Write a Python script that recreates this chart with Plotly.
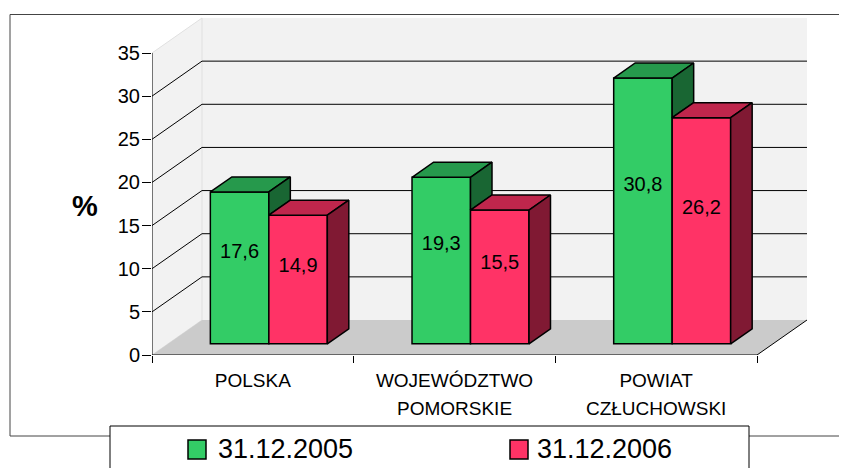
import plotly.graph_objects as go

# ---------------- data ----------------
label_line1 = ["POLSKA", "WOJEWÓDZTWO", "POWIAT"]
label_line2 = ["", "POMORSKIE", "CZŁUCHOWSKI"]
series_names = ["31.12.2005", "31.12.2006"]
values_2005 = [17.6, 19.3, 30.8]
values_2006 = [14.9, 15.5, 26.2]
value_labels_2005 = ["17,6", "19,3", "30,8"]
value_labels_2006 = ["14,9", "15,5", "26,2"]
y_ticks = [0, 5, 10, 15, 20, 25, 30, 35]

# ---------------- geometry / style ----------------
OFF = 8                      # page body margin of the html page
W, H = 847 - OFF, 468 - OFF
ML, MR, MT, MB = 152 - OFF, 37, 15 - OFF, 113
PW, PH = W - ML - MR, H - MT - MB
CAT_PX = 201.67              # pixels per category on the front plane
Y_PX = 302 / 35              # pixels per value unit on the front plane
X_RANGE = [-0.5, -0.5 + PW / CAT_PX]
Y_RANGE = [0, PH / Y_PX]
DX = 50 / CAT_PX             # depth offset (x units)
DY = 35 / Y_PX               # depth offset (value units)
F0 = 0.32                    # depth of bar front face (fraction)
FD = 0.43                    # bar depth (fraction)
BW = 0.29                    # bar width (category units)
Y_MAX = 35
N = len(label_line1)

FONT = "Liberation Sans, Arial, sans-serif"
FRONT = ["#33CC66", "#FF3366"]
TOP = ["#26994C", "#BF264C"]
SIDE = ["#196633", "#801933"]
WALL = "#F2F2F2"
FLOOR = "#CBCBCB"


def px(x):
    """screen x (reference pixels) -> paper x"""
    return (x - OFF - ML) / PW


def py(y):
    """screen y (reference pixels) -> paper y"""
    return (H - MB - (y - OFF)) / PH


def poly(pts):
    return "M " + " L ".join(f"{a},{b}" for a, b in pts) + " Z"


series = [values_2005, values_2006]
labels = [value_labels_2005, value_labels_2006]
base = F0 * DY
ddx, ddy = FD * DX, FD * DY

fig = go.Figure()

# front faces as bars
for s in range(2):
    xs = [i - BW + s * BW + F0 * DX + BW / 2 for i in range(N)]
    fig.add_trace(go.Bar(
        x=xs, y=series[s], base=base, width=BW, name=series_names[s],
        marker=dict(color=FRONT[s], line=dict(color="black", width=1.5)),
        showlegend=False, hoverinfo="skip"))

# top and side faces
for s in range(2):
    tx, ty, sx, sy = [], [], [], []
    for i in range(N):
        left = i - BW + s * BW + F0 * DX
        v = series[s][i]
        top = base + v
        tx += [left, left + BW, left + BW + ddx, left + ddx, left, None]
        ty += [top, top, top + ddy, top + ddy, top, None]
        lo = base + (series[1][i] if s == 0 else 0)
        r = left + BW
        sx += [r, r + ddx, r + ddx, r, r, None]
        sy += [lo, lo + ddy, top + ddy, top, lo, None]
    fig.add_trace(go.Scatter(x=tx, y=ty, fill="toself", fillcolor=TOP[s], mode="lines",
                             line=dict(color="black", width=1.5), showlegend=False,
                             hoverinfo="skip"))
    fig.add_trace(go.Scatter(x=sx, y=sy, fill="toself", fillcolor=SIDE[s], mode="lines",
                             line=dict(color="black", width=1.5), showlegend=False,
                             hoverinfo="skip"))

# value labels
for s in range(2):
    xs = [i - BW + s * BW + F0 * DX + BW / 2 for i in range(N)]
    ys = [base + 0.595 * v for v in series[s]]
    fig.add_trace(go.Scatter(x=xs, y=ys, mode="text", text=labels[s],
                             textposition="middle center",
                             textfont=dict(family=FONT, size=20, color="black"),
                             showlegend=False, hoverinfo="skip"))

# invisible trace for the second label axis
fig.add_trace(go.Scatter(x=[0], y=[0], xaxis="x2", mode="markers",
                         marker=dict(opacity=0), showlegend=False, hoverinfo="skip"))

shapes = []
x0, x1 = -0.5, -0.5 + N
# back wall
shapes.append(dict(type="path", xref="x", yref="y", layer="below",
                   path=poly([(x0 + DX, DY), (x1 + DX, DY), (x1 + DX, Y_MAX + DY), (x0 + DX, Y_MAX + DY)]),
                   fillcolor=WALL, line=dict(width=0)))
# left wall
shapes.append(dict(type="path", xref="x", yref="y", layer="below",
                   path=poly([(x0, 0), (x0 + DX, DY), (x0 + DX, Y_MAX + DY), (x0, Y_MAX)]),
                   fillcolor=WALL, line=dict(color="#E0E0E0", width=1)))
# floor
shapes.append(dict(type="path", xref="x", yref="y", layer="below",
                   path=poly([(x0, 0), (x1, 0), (x1 + DX, DY), (x0 + DX, DY)]),
                   fillcolor=FLOOR, line=dict(width=0)))
# gridlines
for t in y_ticks[1:-1]:
    shapes.append(dict(type="path", xref="x", yref="y", layer="below",
                       path=f"M {x0},{t} L {x0 + DX},{t + DY} L {x1 + DX},{t + DY}",
                       line=dict(color="black", width=1)))
# axis lines
shapes.append(dict(type="line", xref="x", yref="y", layer="below",
                   x0=x0, y0=0, x1=x0, y1=Y_MAX, line=dict(color="black", width=1)))
shapes.append(dict(type="path", xref="x", yref="y", layer="below",
                   path=f"M {x0},0 L {x1},0 L {x1 + DX},{DY}",
                   line=dict(color="black", width=1)))

# chart border (cropped)
border = "#444444"
shapes.append(dict(type="line", xref="paper", yref="paper", layer="above",
                   x0=px(10), y0=py(14.5), x1=px(860), y1=py(14.5), line=dict(color=border, width=1)))
shapes.append(dict(type="line", xref="paper", yref="paper", layer="above",
                   x0=px(10), y0=py(14.5), x1=px(10), y1=py(436), line=dict(color=border, width=1)))
shapes.append(dict(type="line", xref="paper", yref="paper", layer="above",
                   x0=px(10), y0=py(436), x1=px(860), y1=py(436), line=dict(color=border, width=1)))
# legend box
shapes.append(dict(type="rect", xref="paper", yref="paper", layer="above",
                   x0=px(110), y0=py(426), x1=px(749), y1=py(490),
                   fillcolor="white", line=dict(color="black", width=1)))
legend_sw_x = [188, 510]
legend_tx_x = [216, 535]
annotations = []
for s in range(2):
    shapes.append(dict(type="rect", xref="paper", yref="paper", layer="above",
                       x0=px(legend_sw_x[s]), y0=py(440), x1=px(legend_sw_x[s] + 18), y1=py(459),
                       fillcolor=FRONT[s], line=dict(color="black", width=1.5)))
    annotations.append(dict(xref="paper", yref="paper", x=px(legend_tx_x[s]), y=py(449.5),
                            xanchor="left", yanchor="middle", showarrow=False,
                            text=series_names[s], font=dict(family=FONT, size=27, color="black")))

annotations.append(dict(xref="paper", yref="paper", x=px(85), y=py(206),
                        xanchor="center", yanchor="middle", showarrow=False,
                        text="<b>%</b>", font=dict(family=FONT, size=29, color="black")))

fig.update_layout(
    width=W, height=H,
    margin=dict(l=ML, r=MR, t=MT, b=MB, pad=0),
    paper_bgcolor="white", plot_bgcolor="white",
    barmode="overlay", showlegend=False,
    font=dict(family=FONT, color="black"),
    shapes=shapes, annotations=annotations,
    xaxis=dict(range=X_RANGE, showgrid=False, zeroline=False, showline=False,
               tickvals=list(range(N)), ticktext=label_line1, ticks="",
               tickfont=dict(family=FONT, size=19, color="black"),
               ticklabelstandoff=12,
               minor=dict(tickvals=[-0.5 + k for k in range(N + 1)], ticks="outside",
                          ticklen=7, tickcolor="black", tickwidth=1, showgrid=False),
               fixedrange=True),
    xaxis2=dict(range=X_RANGE, overlaying="x", anchor="y", side="bottom",
                showgrid=False, zeroline=False, showline=False,
                tickvals=list(range(N)), ticktext=label_line2, ticks="",
                tickfont=dict(family=FONT, size=19, color="black"),
                ticklabelstandoff=40, fixedrange=True),
    yaxis=dict(range=Y_RANGE, showgrid=False, zeroline=False, showline=False,
               tickvals=y_ticks, ticks="outside", ticklen=9, tickcolor="black",
               tickfont=dict(family=FONT, size=20, color="black"),
               ticklabelstandoff=-2, fixedrange=True),
)

fig.write_html("out.html")
